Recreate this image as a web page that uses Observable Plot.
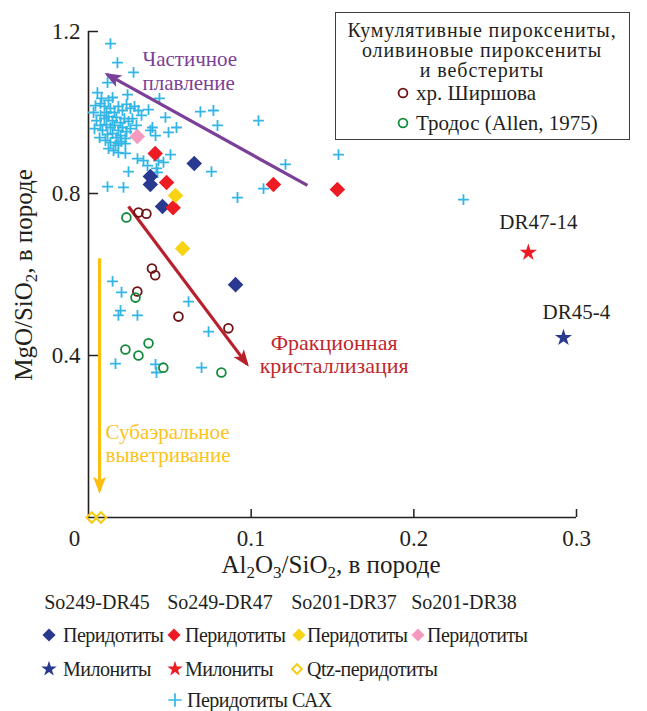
<!DOCTYPE html>
<html><head><meta charset="utf-8">
<script src="https://cdn.jsdelivr.net/npm/d3@7"></script>
<script src="https://cdn.jsdelivr.net/npm/@observablehq/plot@0.6"></script>
<style>
body{margin:0;background:#fff;font-family:"Liberation Serif","Times New Roman",serif;color:#231f20}
#wrap{position:relative;width:647px;height:711px;overflow:hidden;background:#fff}
#wrap svg.plot{position:absolute;left:0;top:0}
.t{position:absolute;white-space:nowrap;line-height:24px;height:24px}
.c{transform:translateX(-50%)}
.box{position:absolute;left:335px;top:12px;width:295px;height:128px;box-sizing:border-box;border:1.5px solid #3d3d3d;background:#fff}
.m{position:absolute;overflow:visible}
sub{font-size:0.68em;vertical-align:-0.28em;line-height:0}
</style></head>
<body><div id="wrap"></div>
<script>
// ---- data (x = Al2O3/SiO2, y = MgO/SiO2) ----
const xTicks = [0.1, 0.2, 0.3];
const yTicks = [0.4, 0.8, 1.2];
const originLabel = ["0"];

const dr45Peridotite = [[0.065,0.874],[0.038,0.842],[0.038,0.822],[0.0455,0.768],[0.0904,0.575]];
const dr45Mylonite = [[0.292,0.444]];
const dr47Peridotite = [[0.041,0.899],[0.048,0.827],[0.052,0.765],[0.1137,0.822],[0.153,0.810]];
const dr47Mylonite = [[0.2704,0.654]];
const dr37Peridotite = [[0.0535,0.795],[0.0578,0.664]];
const dr37QtzPeridotite = [[0.0020,0.0],[0.0076,0.0]];
const dr38Peridotite = [[0.030,0.941]];
const shirshov = [[0.0307,0.753],[0.0356,0.750],[0.039,0.615],[0.041,0.598],[0.030,0.558],[0.0553,0.496],[0.086,0.467]];
const troodos = [[0.0233,0.741],[0.0289,0.543],[0.0227,0.415],[0.0307,0.400],[0.0369,0.430],[0.046,0.370],[0.0817,0.358]];
const sahPeridotite = [
  [0.0135,1.170],[0.0178,1.123],[0.0277,1.099],[0.0117,1.074],[0.0240,1.044],[0.0436,1.035],
  [0.0326,0.993],[0.0369,1.007],[0.0307,1.005],[0.0473,0.988],[0.0541,0.963],[0.0688,1.002],
  [0.0768,1.005],[0.0793,0.968],[0.1045,0.980],[0.1211,0.872],[0.1076,0.812],[0.0916,0.790],
  [0.0756,0.854],[0.0504,0.896],[0.0461,0.877],[0.0246,0.854],[0.0117,0.817],[0.0215,0.815],
  [0.0492,0.951],[0.0412,0.943],[0.0393,0.963],[0.0227,0.923],[0.0184,0.923],[0.0227,0.899],
  [0.0301,0.886],[0.0338,0.881],[0.0363,0.869],[0.0424,0.852],[0.0418,0.862],[0.0430,0.881],
  [0.0381,0.956],[0.1537,0.896],[0.2305,0.785],
  [0.0148,0.583],[0.0203,0.556],[0.0197,0.511],[0.0184,0.499],[0.0301,0.499],[0.0615,0.533],
  [0.0738,0.459],[0.0166,0.380],[0.0412,0.378],[0.0418,0.358],[0.0695,0.370],
  [0.0055,1.049],[0.0080,1.035],[0.0043,1.017],[0.0074,1.022],[0.0098,1.015],[0.0123,1.030],
  [0.0148,1.037],[0.0111,1.000],[0.0135,1.010],[0.0160,1.000],[0.0184,1.015],[0.0209,1.005],
  [0.0234,1.020],[0.0258,1.010],[0.0283,1.015],[0.0074,0.993],[0.0098,0.985],[0.0123,0.990],
  [0.0148,0.980],[0.0172,0.988],[0.0197,0.975],[0.0221,0.985],[0.0246,0.978],[0.0049,0.980],
  [0.0074,0.968],[0.0111,0.970],[0.0135,0.963],[0.0160,0.968],[0.0184,0.956],[0.0209,0.963],
  [0.0234,0.953],[0.0086,0.956],[0.0117,0.946],[0.0148,0.948],[0.0172,0.938],[0.0197,0.943],
  [0.0068,0.938],[0.0104,0.931],[0.0135,0.926],[0.0166,0.919],[0.0203,0.928],[0.0031,1.000],
  [0.0227,0.936],[0.0258,0.960],[0.0154,0.906],[0.0184,0.901],[0.0123,0.911],[0.0037,0.960],
  [0.0270,0.985],[0.0295,0.968]
];

const trendArrows = [
  {x1:0.1346, y1:0.820, x2:0.0114, y2:1.094, color:"#7b3f98"},
  {x1:0.0246, y1:0.768, x2:0.0975, y2:0.378, color:"#b8202b"},
  {x1:0.0068, y1:0.640, x2:0.0068, y2:0.066, color:"#fcbf10"}
];
const trendLabels = [
  {x:0.0332, y:1.131, text:"Частичное", color:"#7b3f98", anchor:"start"},
  {x:0.0332, y:1.073, text:"плавление", color:"#7b3f98", anchor:"start"},
  {x:0.151, y:0.432, text:"Фракционная", color:"#c1272d", anchor:"middle"},
  {x:0.151, y:0.374, text:"кристаллизация", color:"#c1272d", anchor:"middle"},
  {x:0.0105, y:0.210, text:"Субаэральное", color:"#fbc31b", anchor:"start"},
  {x:0.0105, y:0.153, text:"выветривание", color:"#fbc31b", anchor:"start"}
];
const sampleLabels = [
  {x:0.2766, y:0.728, text:"DR47-14"},
  {x:0.2999, y:0.506, text:"DR45-4"}
];

const legendGroups = ["So249-DR45","So249-DR47","So201-DR37","So201-DR38"];
const boxTitle = ["Кумулятивные пироксениты,","оливиновые пироксениты","и вебстериты"];
const boxItems = ["хр. Ширшова","Тродос (Allen, 1975)"];

// ---- colours ----
const BLUE="#29398f", RED="#ed1c24", YEL="#f8d314", PINK="#f49ac1", BROWN="#6e1214", GREEN="#138a3c", CYAN="#33b6e6", YELO="#f5cc10";
const FONT = '"Liberation Serif","Times New Roman",serif';

function headMarker(color, context) {
  const ns = "http://www.w3.org/2000/svg";
  const doc = (context && context.document) || document;
  const m = doc.createElementNS(ns, "marker");
  m.setAttribute("viewBox", "-16 -8 20 16");
  m.setAttribute("markerWidth", 20); m.setAttribute("markerHeight", 16);
  m.setAttribute("markerUnits", "userSpaceOnUse");
  m.setAttribute("orient", "auto");
  m.setAttribute("refX", 0); m.setAttribute("refY", 0);
  m.setAttribute("overflow", "visible");
  const p = doc.createElementNS(ns, "path");
  p.setAttribute("d", "M3,0L-14,-6.5L-10,0L-14,6.5Z");
  p.setAttribute("fill", color); p.setAttribute("stroke", "none");
  m.appendChild(p);
  return m;
}
let arrowMark;
try {
  arrowMark = Plot.link(trendArrows, {x1: "x1", y1: "y1", x2: "x2", y2: "y2", stroke: "color", strokeWidth: 3.2, markerEnd: headMarker});
} catch (e) {
  arrowMark = Plot.arrow(trendArrows, {x1: "x1", y1: "y1", x2: "x2", y2: "y2", stroke: "color", strokeWidth: 3.2, headLength: 15, headAngle: 45});
}

const px = d=>d[0], py = d=>d[1];
const fmt = d => String(d);
const plot = Plot.plot({
  width: 647, height: 585,
  marginLeft: 88, marginRight: 71, marginTop: 31, marginBottom: 68,
  x: {domain: [0, 0.3]},
  y: {domain: [0, 1.2]},
  color: {type: "identity"},
  style: {fontFamily: FONT, fontSize: "23px", color: "#231f20", background: "transparent", overflow: "visible"},
  marks: [
    Plot.axisX(xTicks, {tickSize: -8, tickPadding: 20, label: null, strokeWidth: 1.5, tickFormat: fmt}),
    Plot.axisY(yTicks, {tickSize: -10, tickPadding: 18, label: null, strokeWidth: 1.5, tickFormat: fmt}),
    Plot.text(originLabel, {x: () => 0, y: () => 0, text: d => d, dx: -14, dy: 21, fontSize: 23}),
    Plot.ruleX([0], {stroke: "#231f20", strokeWidth: 1.6}),
    Plot.ruleY([0], {stroke: "#231f20", strokeWidth: 1.6}),
    Plot.dot(sahPeridotite, {x: px, y: py, symbol: "plus", r: 3.6, stroke: CYAN, strokeWidth: 1.8}),
    arrowMark,
    Plot.dot(shirshov, {x: px, y: py, r: 4.4, stroke: BROWN, strokeWidth: 1.8, fill: "none"}),
    Plot.dot(troodos, {x: px, y: py, r: 4.4, stroke: GREEN, strokeWidth: 1.8, fill: "none"}),
    Plot.dot(dr37QtzPeridotite, {x: px, y: py, symbol: "diamond2", r: 4.8, stroke: YELO, strokeWidth: 2, fill: "none"}),
    Plot.dot(dr38Peridotite, {x: px, y: py, symbol: "diamond2", r: 7, fill: PINK}),
    Plot.dot(dr45Peridotite, {x: px, y: py, symbol: "diamond2", r: 7, fill: BLUE}),
    Plot.dot(dr47Peridotite, {x: px, y: py, symbol: "diamond2", r: 7, fill: RED}),
    Plot.dot(dr37Peridotite, {x: px, y: py, symbol: "diamond2", r: 7, fill: YEL}),
    Plot.dot(dr45Mylonite, {x: px, y: py, symbol: "star", r: 5.4, fill: BLUE}),
    Plot.dot(dr47Mylonite, {x: px, y: py, symbol: "star", r: 5.4, fill: RED}),
    Plot.text(trendLabels.filter(d => d.anchor === "start"), {x: "x", y: "y", text: "text", fill: "color", textAnchor: "start", fontSize: 21, letterSpacing: "0.3px"}),
    Plot.text(trendLabels.filter(d => d.anchor === "middle"), {x: "x", y: "y", text: "text", fill: "color", textAnchor: "middle", fontSize: 22}),
    Plot.text(sampleLabels, {x: "x", y: "y", text: "text", fill: "#231f20", fontSize: 21})
  ]
});
plot.classList.add("plot");
const wrap = document.getElementById("wrap");
wrap.appendChild(plot);

// ---- html helpers ----
function txt(html, x, cy, center, size, extra) {
  const d = document.createElement("div");
  d.className = "t" + (center ? " c" : "");
  d.style.left = x + "px"; d.style.top = (cy - 12) + "px";
  d.style.fontSize = (size || 20) + "px";
  if (extra) Object.assign(d.style, extra);
  d.innerHTML = html;
  return d;
}
function marker(sym, size, fill, stroke, sw, cx, cy) {
  const s = 24;
  const p = d3.symbol(sym, size)();
  const el = document.createElement("div");
  el.className = "m";
  el.style.left = (cx - s/2) + "px"; el.style.top = (cy - s/2) + "px";
  el.innerHTML = `<svg width="${s}" height="${s}" viewBox="${-s/2} ${-s/2} ${s} ${s}"><path d="${p}" fill="${fill}" stroke="${stroke}" stroke-width="${sw}"/></svg>`;
  return el;
}

// axis titles
wrap.appendChild(txt("Al<sub>2</sub>O<sub>3</sub>/SiO<sub>2</sub>, в породе", 331, 565, true, 25, {lineHeight: "28px", height: "28px", top: "551px"}));
const yl = txt("MgO/SiO<sub>2</sub>, в породе", 24, 275, false, 25, {lineHeight: "28px", height: "28px", top: "261px", transform: "translate(-50%,0) rotate(-90deg)", transformOrigin: "50% 50%"});
wrap.appendChild(yl);

// in-plot legend box
const box = document.createElement("div"); box.className = "box"; wrap.appendChild(box);
boxTitle.forEach((t, i) => wrap.appendChild(txt(t, 482, 30 + 20*i, true, 20, {letterSpacing: "0.9px", lineHeight: "20px", height: "20px", top: (20 + 20*i) + "px"})));
const cSize = Math.PI * 4.4 * 4.4;
wrap.appendChild(marker(d3.symbolCircle, cSize, "none", BROWN, 1.8, 403, 93));
wrap.appendChild(txt(boxItems[0], 416, 93, false, 21));
wrap.appendChild(marker(d3.symbolCircle, cSize, "none", GREEN, 1.8, 403, 123));
wrap.appendChild(txt(boxItems[1], 416, 123, false, 21));

// bottom legend
const hx = [97, 220, 344, 464];
legendGroups.forEach((g, i) => wrap.appendChild(txt(g, hx[i], 602, true, 20)));
const dSize = 110, sSize = 75;
const LS = {letterSpacing: "-0.5px"};
const row2 = [[49, BLUE], [174, RED], [299, YEL], [418, PINK]];
const tx2 = [63, 185, 307, 427];
row2.forEach(([mx, col], i) => {
  wrap.appendChild(marker(d3.symbolDiamond2, dSize, col, "none", 0, mx, 635));
  wrap.appendChild(txt("Перидотиты", tx2[i], 635, false, 20, LS));
});
wrap.appendChild(marker(d3.symbolStar, sSize, BLUE, "none", 0, 49, 669));
wrap.appendChild(txt("Милониты", 63, 669, false, 20, LS));
wrap.appendChild(marker(d3.symbolStar, sSize, RED, "none", 0, 175, 669));
wrap.appendChild(txt("Милониты", 185, 669, false, 20, LS));
wrap.appendChild(marker(d3.symbolDiamond2, 60, "none", YELO, 2, 297, 669));
wrap.appendChild(txt("Qtz-перидотиты", 307, 669, false, 20, LS));
wrap.appendChild(marker(d3.symbolPlus, 60, "none", CYAN, 1.7, 175, 700));
wrap.appendChild(txt("Перидотиты САХ", 187, 700, false, 20, LS));
</script>
</body></html>
